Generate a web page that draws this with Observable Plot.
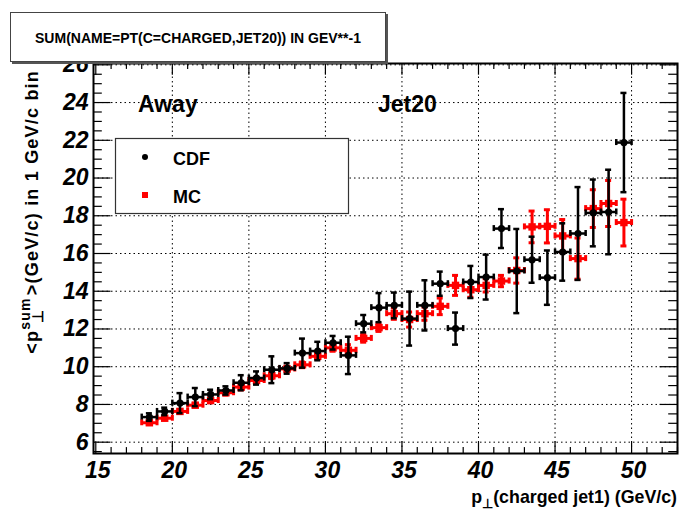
<!DOCTYPE html>
<html><head><meta charset="utf-8">
<script src="https://cdn.jsdelivr.net/npm/d3@7"></script>
<script src="https://cdn.jsdelivr.net/npm/@observablehq/plot@0.6"></script>
<style>body{margin:0;background:#fff}#chart{width:680px;height:513px;position:relative}</style>
</head><body><div id="chart"></div>
<script>
// bin centres (1 GeV/c bins)
const binX = [18.5,19.5,20.5,21.5,22.5,23.5,24.5,25.5,26.5,27.5,28.5,29.5,30.5,31.5,32.5,33.5,34.5,35.5,36.5,37.5,38.5,39.5,40.5,41.5,42.5,43.5,44.5,45.5,46.5,47.5,48.5,49.5];
const binHalf = 0.5;
// CDF data
const cdfY = [7.33,7.63,8.07,8.39,8.53,8.74,9.15,9.40,9.84,9.91,10.72,10.83,11.27,10.60,12.28,13.13,13.25,12.55,13.25,14.40,12.02,14.49,14.75,17.32,15.07,15.67,14.72,16.08,17.06,18.15,18.20,21.88];
const cdfErr = [0.20,0.20,0.53,0.48,0.25,0.22,0.40,0.35,0.71,0.28,0.77,0.49,0.36,0.99,0.46,0.77,0.68,1.43,1.33,0.64,0.85,0.85,1.19,1.03,2.23,1.22,1.44,1.52,2.46,1.77,2.24,2.63];
// MC
const mcY = [7.03,7.27,7.63,7.96,8.21,8.62,8.92,9.27,9.52,9.88,10.10,10.55,11.00,10.87,11.50,12.07,12.81,12.50,12.81,13.20,14.31,14.08,14.31,14.54,15.10,17.41,17.44,16.93,15.73,18.38,18.65,17.64];
const mcErr = [0.08,0.08,0.10,0.10,0.12,0.12,0.15,0.15,0.15,0.15,0.15,0.15,0.18,0.30,0.20,0.20,0.30,0.40,0.35,0.44,0.53,0.40,0.35,0.30,0.67,0.84,0.88,0.87,1.09,1.00,1.22,1.24];
// axes
const xTicks = [15,20,25,30,35,40,45,50];
const yTicks = [6,8,10,12,14,16,18,20,22,24,26];
const titleText = "SUM(NAME=PT(C=CHARGED,JET20)) IN GEV**-1";
const seriesNames = ["CDF","MC"];
const seriesColors = ["#000000","#ff0000"];

const W=680,H=513,mL=93,mR=3,mT=63,mB=60;
const xDom=[14.85,53], yDom=[5.4,26.07];
const pw=W-mL-mR, ph=H-mT-mB;
const kx=pw/(xDom[1]-xDom[0]), ky=ph/(yDom[1]-yDom[0]);
const cdf = binX.map((x,i)=>({x,y:cdfY[i],e:cdfErr[i]}));
const mc = binX.map((x,i)=>({x,y:mcY[i],e:mcErr[i]}));
const xMinor = d3.range(15,53.01,1).filter(v=>!xTicks.includes(v));
const yMinor = d3.range(5.5,26.01,0.5).filter(v=>!yTicks.includes(v));

function errMarks(data,color,sw,markSym,r){
  const cw=3/kx, ch=3/ky;
  return [
    Plot.ruleY(data,{y:"y",x1:d=>d.x-binHalf,x2:d=>d.x+binHalf,stroke:color,strokeWidth:sw}),
    Plot.ruleX(data,{x:"x",y1:d=>d.y-d.e,y2:d=>d.y+d.e,stroke:color,strokeWidth:sw}),
    Plot.ruleY(data,{y:d=>d.y-d.e,x1:d=>d.x-cw,x2:d=>d.x+cw,stroke:color,strokeWidth:sw}),
    Plot.ruleY(data,{y:d=>d.y+d.e,x1:d=>d.x-cw,x2:d=>d.x+cw,stroke:color,strokeWidth:sw}),
    Plot.ruleX(data,{x:d=>d.x-binHalf,y1:d=>d.y-ch,y2:d=>d.y+ch,stroke:color,strokeWidth:sw}),
    Plot.ruleX(data,{x:d=>d.x+binHalf,y1:d=>d.y-ch,y2:d=>d.y+ch,stroke:color,strokeWidth:sw}),
    Plot.dot(data,{x:"x",y:"y",symbol:markSym,r,fill:color,stroke:"none"})
  ];
}
const tickFont={fontSize:23,fontWeight:"bold",fontStyle:"italic",fill:"black"};
const chart = Plot.plot({
  width:W,height:H,marginLeft:mL,marginRight:mR,marginTop:mT,marginBottom:mB,
  style:{fontFamily:"'Liberation Sans', Arial, sans-serif",background:"white",overflow:"visible"},
  x:{domain:xDom},y:{domain:yDom},
  marks:[
    Plot.gridX(xTicks.filter(v=>v>15),{stroke:"black",strokeOpacity:1,strokeDasharray:"1.5,3",strokeWidth:1}),
    Plot.gridY(yTicks,{stroke:"black",strokeOpacity:1,strokeDasharray:"1.5,3",strokeWidth:1}),
    ...errMarks(mc,seriesColors[1],3,"square",4.2),
    ...errMarks(cdf,seriesColors[0],2.5,"circle",3.6),
    // inward ticks
    Plot.tickY(yTicks,{y:d=>d,insetRight:pw-17.5,stroke:"black",strokeWidth:1.2}),
    Plot.tickY(yMinor,{y:d=>d,insetRight:pw-8.8,stroke:"black",strokeWidth:1.2}),
    Plot.tickY(yTicks,{y:d=>d,insetLeft:pw-17.5,stroke:"black",strokeWidth:1.2}),
    Plot.tickY(yMinor,{y:d=>d,insetLeft:pw-8.8,stroke:"black",strokeWidth:1.2}),
    Plot.tickX(xTicks,{x:d=>d,insetTop:ph-11.7,stroke:"black",strokeWidth:1.2}),
    Plot.tickX(xMinor,{x:d=>d,insetTop:ph-5.9,stroke:"black",strokeWidth:1.2}),
    Plot.tickX(xTicks,{x:d=>d,insetBottom:ph-11.7,stroke:"black",strokeWidth:1.2}),
    Plot.tickX(xMinor,{x:d=>d,insetBottom:ph-5.9,stroke:"black",strokeWidth:1.2}),
    Plot.frame({stroke:"black",strokeWidth:2}),
    Plot.axisX(xTicks,{tickSize:0,tickPadding:8,label:null,...tickFont,dx:2}),
    Plot.axisY(yTicks,{tickSize:0,tickPadding:5,label:null,...tickFont})
  ]
});
document.getElementById("chart").appendChild(chart);
const svg=d3.select(chart);
const ff="'Liberation Sans', Arial, sans-serif";
function txt(x,y,size,s,anchor){
  return svg.append("text").attr("x",x).attr("y",y).attr("text-anchor",anchor||"start")
    .attr("font-family",ff).attr("font-weight","bold").attr("font-size",size).attr("fill","black").text(s);
}
// annotations
txt(138,112,23,"Away");
txt(378,112,23,"Jet20");
// legend
svg.append("rect").attr("x",115.5).attr("y",138.5).attr("width",233).attr("height",75).attr("fill","white").attr("stroke","#333").attr("stroke-width",1.2);
svg.append("circle").attr("cx",145).attr("cy",157).attr("r",3).attr("fill",seriesColors[0]);
svg.append("rect").attr("x",142).attr("y",192).attr("width",6).attr("height",6).attr("fill",seriesColors[1]);
txt(173,165,18,seriesNames[0]);
txt(173,203,18,seriesNames[1]);
// title box
svg.append("rect").attr("x",12).attr("y",14).attr("width",376).attr("height",50).attr("fill","#555");
svg.append("rect").attr("x",10.5).attr("y",12.5).attr("width",375).attr("height",49).attr("fill","white").attr("stroke","#444").attr("stroke-width",1);
txt(198,42.5,14,titleText,"middle");
// axis titles
const xl=svg.append("text").attr("x",677).attr("y",503).attr("text-anchor","end").attr("font-family",ff).attr("font-weight","bold").attr("font-size",17.8);
xl.append("tspan").text("p");
xl.append("tspan").attr("font-size",13).attr("dy",5).text("⊥");
xl.append("tspan").attr("dy",-5).text("(charged jet1) (GeV/c)");
const yl=svg.append("text").attr("transform","translate(38,70) rotate(-90)").attr("text-anchor","end").attr("font-family",ff).attr("font-weight","bold").attr("font-size",18).attr("letter-spacing",1.2);
yl.append("tspan").text("<p");
yl.append("tspan").attr("font-size",14).attr("dy",-8).text("sum");
yl.append("tspan").attr("font-size",15).attr("dx",-26).attr("dy",13).text("⊥");
yl.append("tspan").attr("dy",-5).attr("dx",14).text(">(GeV/c) in 1 GeV/c bin");
</script></body></html>
